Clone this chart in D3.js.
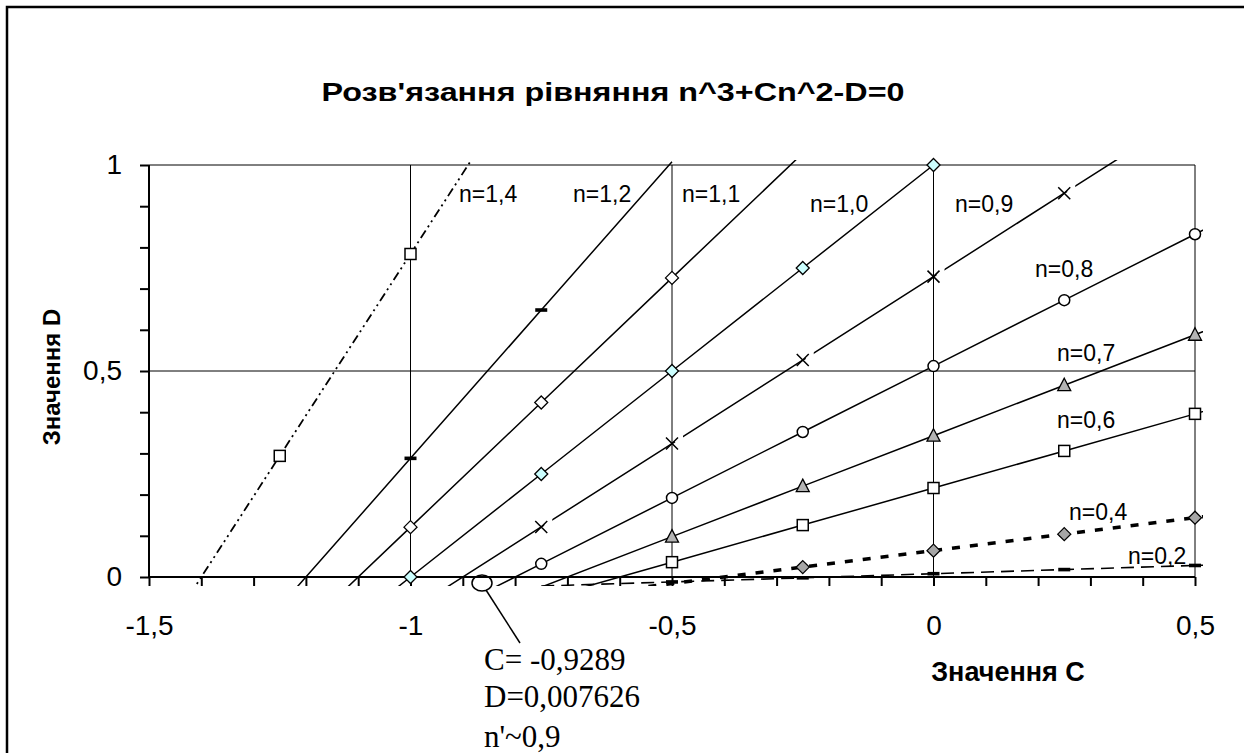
<!DOCTYPE html>
<html>
<head>
<meta charset="utf-8">
<script src="https://cdn.jsdelivr.net/npm/d3@7"></script>
<style>
  body { margin: 0; background: #fff; }
  svg { display: block; font-family: "Liberation Sans", Arial, sans-serif; }
</style>
</head>
<body>
<div id="chart"></div>
<script>
// C values where the points were computed
const cValues = [-1.5, -1.25, -1, -0.75, -0.5, -0.25, 0, 0.25, 0.5, 0.75];

// D values for each n (null = not in the sheet)
const d14 = [-0.196, 0.294, 0.784, 1.274, null, null, null, null, null, null];
const d12 = [-0.432, -0.072, 0.288, 0.648, 1.008, null, null, null, null, null];
const d11 = [null, -0.1815, 0.121, 0.4235, 0.726, 1.0285, null, null, null, null];
const d10 = [null, -0.25, 0, 0.25, 0.5, 0.75, 1, null, null, null];
const d09 = [null, null, -0.081, 0.1215, 0.324, 0.5265, 0.729, 0.9315, 1.134, 1.3365];
const d08 = [null, null, -0.128, 0.032, 0.192, 0.352, 0.512, 0.672, 0.832, 0.992];
const d07 = [null, null, -0.147, -0.0245, 0.098, 0.2205, 0.343, 0.4655, 0.588, 0.7105];
const d06 = [null, null, null, -0.054, 0.036, 0.126, 0.216, 0.306, 0.396, 0.486];
const d04 = [null, null, null, -0.056, -0.016, 0.024, 0.064, 0.104, 0.144, 0.184];
const d02 = [null, null, null, -0.022, -0.012, -0.002, 0.008, 0.018, 0.028, 0.038];

const seriesNames = ["n=1,4", "n=1,2", "n=1,1", "n=1,0", "n=0,9", "n=0,8", "n=0,7", "n=0,6", "n=0,4", "n=0,2"];
const seriesValues = [d14, d12, d11, d10, d09, d08, d07, d06, d04, d02];

const xTicks = [-1.5, -1, -0.5, 0, 0.5];
const yTicks = [0, 0.5, 1];

const title = "Розв'язання рівняння n^3+Cn^2-D=0";
const note = ["C= -0,9289", "D=0,007626", "n'~0,9"];

// styles per series
const styles = [
  {marker: "square", dash: "9,4,2,4,2,4", width: 1.8},
  {marker: "bar", dash: null, width: 1.5},
  {marker: "diamond", fill: "#fff", dash: null, width: 1.5},
  {marker: "diamond", fill: "#ccffff", dash: null, width: 1.5},
  {marker: "x", dash: null, width: 1.5},
  {marker: "circle", dash: null, width: 1.5},
  {marker: "triangle", fill: "#b4b4b4", dash: null, width: 1.5},
  {marker: "square", dash: null, width: 1.5},
  {marker: "diamond", fill: "#a6a6a6", dash: "8,10", width: 3.5},
  {marker: "bar", dash: "13,7", width: 1.6}
];
// where the series labels sit (pixels)
const labelPos = [[459, 202], [573, 202], [682, 202], [810, 212], [955, 212],
                  [1035, 277], [1057, 361], [1057, 428], [1069, 520], [1128, 564]];

const W = 1244, H = 753;
const x = d3.scaleLinear().domain([-1.5, 0.5]).range([149, 1195]);
const y = d3.scaleLinear().domain([0, 1]).range([577, 165]);
const comma = d3.formatLocale({decimal: ",", thousands: " ", grouping: [3], currency: ["", ""], minus: "-"}).format("~g");

const svg = d3.select("#chart").append("svg").attr("width", W).attr("height", H);

// outer frame
svg.append("path").attr("d", `M7,${H} L7,7 L${W},7`)
  .attr("fill", "none").attr("stroke", "#000").attr("stroke-width", 2.5);

// title
svg.append("text").attr("x", 613).attr("y", 101).attr("text-anchor", "middle")
  .attr("font-size", 26).attr("font-weight", "bold")
  .attr("textLength", 583).attr("lengthAdjust", "spacingAndGlyphs").text(title);

// gridlines
svg.append("g").selectAll("line").data([-1, -0.5, 0, 0.5]).join("line")
  .attr("x1", d => x(d)).attr("x2", d => x(d)).attr("y1", y(0)).attr("y2", y(1))
  .attr("stroke", "#000").attr("stroke-width", 1);
svg.append("g").selectAll("line").data([0.5, 1]).join("line")
  .attr("x1", x(-1.5)).attr("x2", x(0.5)).attr("y1", d => y(d)).attr("y2", d => y(d))
  .attr("stroke", "#000").attr("stroke-width", 1);

// axes
const yAxis = svg.append("g").attr("transform", `translate(${x(-1.5)},0)`)
  .call(d3.axisLeft(y).tickValues(d3.range(0, 1.001, 0.1)).tickSize(9).tickPadding(18)
    .tickFormat(d => yTicks.some(t => Math.abs(t - d) < 1e-9) ? comma(+d.toFixed(1)) : ""));
const xAxis = svg.append("g").attr("transform", `translate(0,${y(0)})`)
  .call(d3.axisBottom(x).tickValues(d3.range(-1.5, 0.501, 0.1)).tickSize(9).tickPadding(29)
    .tickFormat(d => xTicks.some(t => Math.abs(t - d) < 1e-9) ? comma(+d.toFixed(1)) : ""));
[xAxis, yAxis].forEach(g => {
  g.select(".domain").attr("stroke-width", 2).attr("d", g === xAxis
    ? `M${x(-1.5)},0H${x(0.5)}` : `M0,${y(0)}V${y(1)}`);
  g.selectAll(".tick line").attr("stroke-width", 2);
  g.selectAll(".tick text").attr("font-size", 28).attr("font-family", "Liberation Sans, Arial")
    .attr("fill", "#000");
});

// axis titles
svg.append("text").attr("transform", "translate(60,377) rotate(-90)")
  .attr("text-anchor", "middle").attr("font-size", 24).attr("font-weight", "bold")
  .text("Значення D");
svg.append("text").attr("x", 1008).attr("y", 681).attr("text-anchor", "middle")
  .attr("font-size", 27).attr("font-weight", "bold").text("Значення С");

// lines, clipped a little outside the plot like the original
svg.append("clipPath").attr("id", "clip").append("rect")
  .attr("x", x(-1.5) - 8).attr("y", y(1) - 5)
  .attr("width", x(0.5) - x(-1.5) + 16).attr("height", y(0) - y(1) + 14);

const line = d3.line().defined(d => d[1] != null).x(d => x(d[0])).y(d => y(d[1]));
const plot = svg.append("g").attr("clip-path", "url(#clip)");

seriesValues.forEach((vals, i) => {
  const pts = cValues.map((c, j) => [c, vals[j]]);
  const st = styles[i];
  plot.append("path").datum(pts).attr("d", line)
    .attr("fill", "none").attr("stroke", "#000").attr("stroke-width", st.width)
    .attr("stroke-dasharray", st.dash);
});

// markers
const mk = svg.append("g");
seriesValues.forEach((vals, i) => {
  const st = styles[i];
  cValues.forEach((c, j) => {
    const v = vals[j];
    if (v == null || c > 0.5 || v < -0.015 || v > 1.001) return;
    const px = x(c), py = y(v);
    const g = mk.append("g").attr("transform", `translate(${px},${py})`);
    if (st.marker === "square") {
      g.append("rect").attr("x", -5.5).attr("y", -5.5).attr("width", 11).attr("height", 11)
        .attr("fill", "#fff").attr("stroke", "#000").attr("stroke-width", 1.5);
    } else if (st.marker === "bar") {
      g.append("rect").attr("x", -6).attr("y", -1.8).attr("width", 12).attr("height", 3.6).attr("fill", "#000");
    } else if (st.marker === "diamond") {
      g.append("path").attr("d", "M0,-6.5L6.5,0L0,6.5L-6.5,0Z")
        .attr("fill", st.fill).attr("stroke", "#000").attr("stroke-width", 1.3);
    } else if (st.marker === "x") {
      g.append("rect").attr("x", 3).attr("y", -9).attr("width", 8).attr("height", 8).attr("fill", "#fff");
      g.append("path").attr("d", "M-6,-6L6,6M-6,6L6,-6").attr("stroke", "#000").attr("stroke-width", 1.5);
    } else if (st.marker === "circle") {
      g.append("circle").attr("r", 5.5).attr("fill", "#fff").attr("stroke", "#000").attr("stroke-width", 1.5);
    } else if (st.marker === "triangle") {
      g.append("path").attr("d", "M0,-7L6.5,5.5L-6.5,5.5Z")
        .attr("fill", st.fill).attr("stroke", "#000").attr("stroke-width", 1.3);
    }
  });
});

// series labels
svg.append("g").selectAll("text").data(seriesNames).join("text")
  .attr("x", (d, i) => labelPos[i][0]).attr("y", (d, i) => labelPos[i][1])
  .attr("font-size", 23).text(d => d);

// callout for the solution point
svg.append("ellipse").attr("cx", 482).attr("cy", 583).attr("rx", 10).attr("ry", 8)
  .attr("fill", "none").attr("stroke", "#000").attr("stroke-width", 1.5);
svg.append("line").attr("x1", 486).attr("y1", 590).attr("x2", 520).attr("y2", 643)
  .attr("stroke", "#000").attr("stroke-width", 1.5);
svg.append("g").selectAll("text").data(note).join("text")
  .attr("x", 484).attr("y", (d, i) => [670, 707, 747][i])
  .attr("font-family", "Liberation Serif, Times New Roman, serif").attr("font-size", 31)
  .text(d => d);
</script>
</body>
</html>
